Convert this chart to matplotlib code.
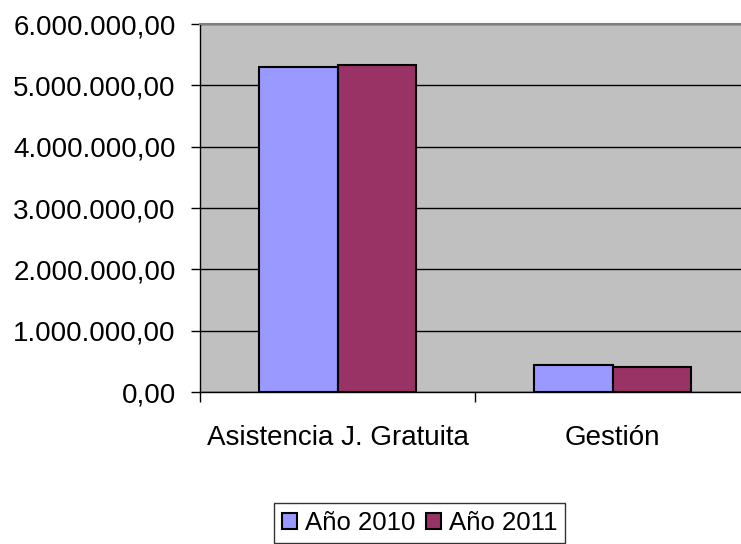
import matplotlib.pyplot as plt
from matplotlib.ticker import FuncFormatter, FixedLocator

categories = ['Asistencia J. Gratuita', 'Gestión']
anio_2010 = [5300000, 440000]
anio_2011 = [5330000, 400000]
series_labels = ['Año 2010', 'Año 2011']

plt.rcParams['font.family'] = ['Liberation Sans', 'DejaVu Sans']

def fmt(v, pos):
    s = '{:,.2f}'.format(v)
    return s.replace(',', 'X').replace('.', ',').replace('X', '.')

fig = plt.figure(figsize=(7.41, 5.44), dpi=100)
ax = fig.add_axes([200/741, 1-392/544, 1-200/741, (392-24)/544])
ax.set_facecolor('#C0C0C0')

w = 0.286
x = list(range(len(categories)))
b1 = ax.bar([i - w/2 for i in x], anio_2010, w, color='#9999FF', edgecolor='black', linewidth=1.5, label=series_labels[0], zorder=3)
b2 = ax.bar([i + w/2 for i in x], anio_2011, w, color='#993366', edgecolor='black', linewidth=1.5, label=series_labels[1], zorder=3)

ax.set_xlim(-0.5, -0.5 + 541/275)
ax.set_ylim(0, 6000000)
ax.yaxis.set_major_locator(FixedLocator([i*1000000 for i in range(7)]))
ax.yaxis.set_major_formatter(FuncFormatter(fmt))
ax.yaxis.grid(True, color='black', linewidth=1, zorder=0)

ax.xaxis.set_major_locator(FixedLocator([-0.5, 0.5, 1.5]))
ax.xaxis.set_major_formatter(FuncFormatter(lambda v, p: ''))
ax.xaxis.set_minor_locator(FixedLocator(x))
ax.set_xticklabels(categories, minor=True)
ax.tick_params(axis='x', which='major', length=7, width=1, color='black')
ax.tick_params(axis='x', which='minor', length=0, pad=24, labelsize=20)
ax.tick_params(axis='y', length=6.5, width=1, pad=11, labelsize=20)

ax.spines['left'].set_color('black')
ax.spines['bottom'].set_color('black')
ax.spines['left'].set_linewidth(1)
ax.spines['bottom'].set_linewidth(1)
ax.spines['top'].set_color('#808080')
ax.spines['top'].set_linewidth(1.5)
ax.spines['right'].set_visible(False)

leg = fig.legend(handles=[b1, b2], labels=series_labels, loc='center', bbox_to_anchor=(419.5/741, 1-523/544),
                 ncol=2, fontsize=18.5, frameon=True, fancybox=False, edgecolor='black',
                 handlelength=0.6, handleheight=0.6, handletextpad=0.3, columnspacing=0.4,
                 borderpad=0.3, borderaxespad=0)
leg.get_frame().set_linewidth(1)

fig.savefig('out.png', dpi=100)
